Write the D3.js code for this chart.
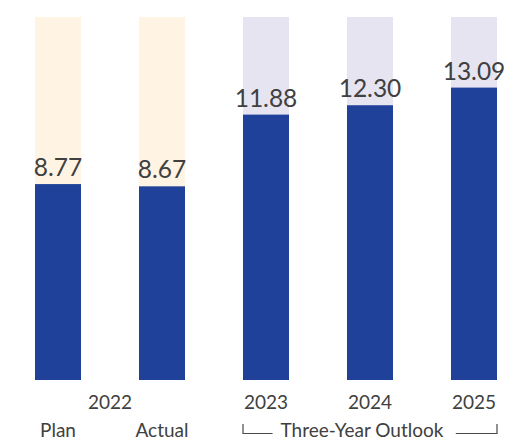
<!DOCTYPE html>
<html>
<head>
<meta charset="utf-8">
<script src="https://cdn.jsdelivr.net/npm/d3@7"></script>
<style>
  html, body { margin: 0; padding: 0; background: #fff; }
  svg { display: block; }
  text { font-family: Lato, "Open Sans", sans-serif; fill: #404040; }
</style>
</head>
<body>
<svg id="chart" width="505" height="442"></svg>
<script>
// Bars: 2022 plan vs. actual, then the three-year outlook
const categories = ["Plan", "Actual", "2023", "2024", "2025"];
const values = [8.77, 8.67, 11.88, 12.30, 13.09];
const kinds = ["actual", "actual", "outlook", "outlook", "outlook"];
const yearLabels = [
  { text: "2022", from: "Plan", to: "Actual" },
  { text: "2023", from: "2023", to: "2023" },
  { text: "2024", from: "2024", to: "2024" },
  { text: "2025", from: "2025", to: "2025" }
];
const bottomLabels = [
  { text: "Plan", at: "Plan" },
  { text: "Actual", at: "Actual" }
];
const outlookLabel = "Three-Year Outlook";
const outlookSpan = ["2023", "2025"];
const yMax = 16.25;

const colors = {
  bar: "#1f419a",
  actual: "#fff4e3",
  outlook: "#e7e4f2",
  rule: "#4a4a4a"
};

const svg = d3.select("#chart");

const x = d3.scaleBand()
  .domain(categories)
  .range([35, 497])
  .paddingInner(0.5577)
  .paddingOuter(0);

const y = d3.scaleLinear()
  .domain([0, yMax])
  .range([380, 17]);

const data = categories.map((c, i) => ({ cat: c, value: values[i], kind: kinds[i] }));

// Background columns
svg.append("g")
  .selectAll("rect")
  .data(data)
  .join("rect")
  .attr("x", d => x(d.cat))
  .attr("width", x.bandwidth())
  .attr("y", y(yMax))
  .attr("height", y(0) - y(yMax))
  .attr("fill", d => colors[d.kind]);

// Value bars
svg.append("g")
  .selectAll("rect")
  .data(data)
  .join("rect")
  .attr("x", d => x(d.cat))
  .attr("width", x.bandwidth())
  .attr("y", d => y(d.value))
  .attr("height", d => y(0) - y(d.value))
  .attr("fill", colors.bar);

// Value labels
svg.append("g")
  .selectAll("text")
  .data(data)
  .join("text")
  .attr("x", d => x(d.cat) + x.bandwidth() / 2)
  .attr("y", d => y(d.value) - 8)
  .attr("text-anchor", "middle")
  .attr("font-size", 24.5)
  .text(d => d.value.toFixed(2));

// Year labels
const mid = c => x(c) + x.bandwidth() / 2;
svg.append("g")
  .selectAll("text")
  .data(yearLabels)
  .join("text")
  .attr("x", d => (mid(d.from) + mid(d.to)) / 2)
  .attr("y", 409)
  .attr("text-anchor", "middle")
  .attr("font-size", 19)
  .text(d => d.text);

// Plan / Actual labels
const bottomY = 437;
svg.append("g")
  .selectAll("text")
  .data(bottomLabels)
  .join("text")
  .attr("x", d => mid(d.at))
  .attr("y", bottomY)
  .attr("text-anchor", "middle")
  .attr("font-size", 19)
  .text(d => d.text);

// Outlook bracket
const bx0 = x(outlookSpan[0]);
const bx1 = x(outlookSpan[1]) + x.bandwidth();
const bMid = (bx0 + bx1) / 2 - 8;
const lineY = 433.5, tickTop = 424;
const label = svg.append("text")
  .attr("x", bMid)
  .attr("y", bottomY)
  .attr("text-anchor", "middle")
  .attr("font-size", 19)
  .text(outlookLabel);
const bb = label.node().getBBox();
const gap = 8;
const bracket = svg.append("g")
  .attr("fill", "none")
  .attr("stroke", colors.rule)
  .attr("stroke-width", 1.2);
bracket.append("path")
  .attr("d", `M${bx0},${tickTop}V${lineY}H${bb.x - gap}`);
bracket.append("path")
  .attr("d", `M${bb.x + bb.width + gap + 4},${lineY}H${bx1}V${tickTop}`);
</script>
</body>
</html>
